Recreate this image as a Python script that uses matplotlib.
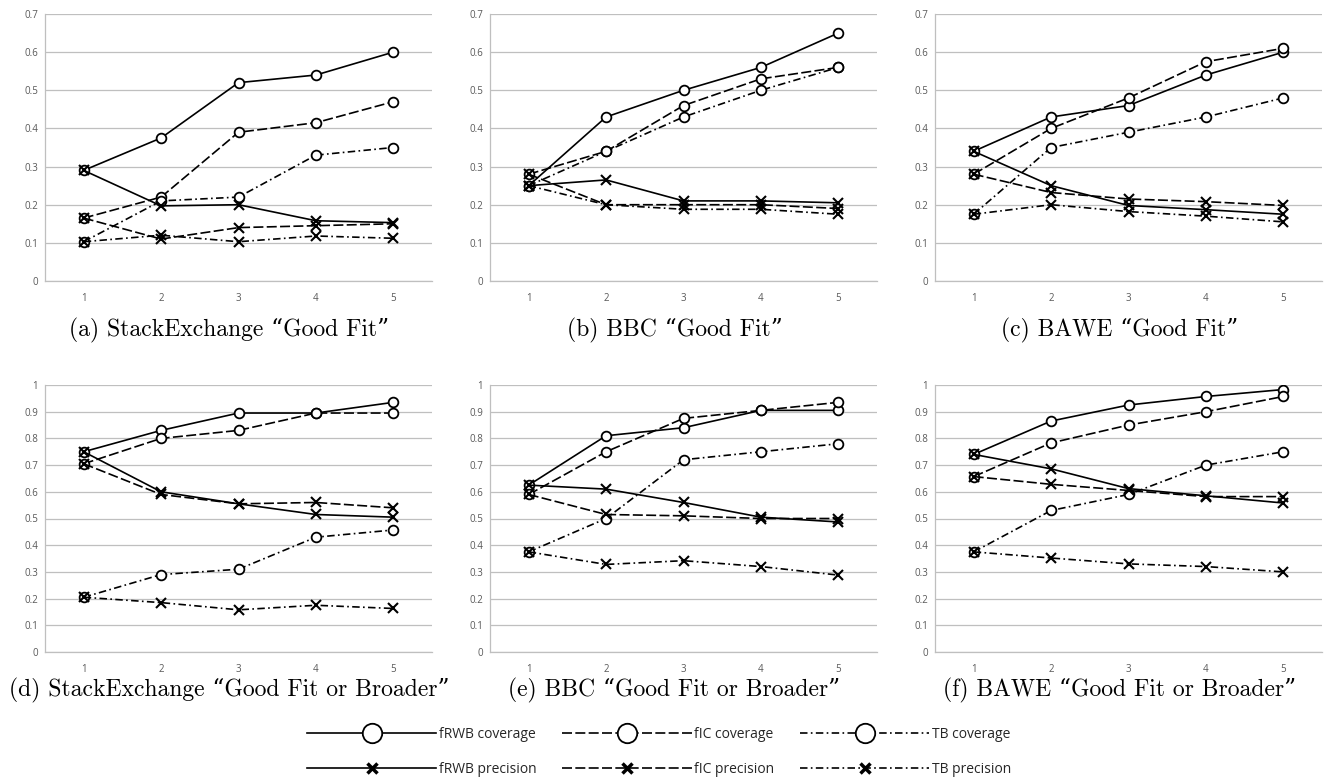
import matplotlib
matplotlib.use('Agg')
import matplotlib.pyplot as plt
from matplotlib.lines import Line2D
from matplotlib.ticker import FuncFormatter
import numpy as np

x = [1, 2, 3, 4, 5]

# (a) StackExchange "Good Fit"
a_frwb_cov = [0.29, 0.375, 0.52, 0.54, 0.60]
a_fic_cov = [0.165, 0.22, 0.39, 0.415, 0.47]
a_tb_cov = [0.103, 0.21, 0.22, 0.33, 0.35]
a_frwb_prec = [0.29, 0.197, 0.20, 0.158, 0.153]
a_fic_prec = [0.165, 0.11, 0.14, 0.145, 0.15]
a_tb_prec = [0.103, 0.12, 0.103, 0.118, 0.112]

# (b) BBC "Good Fit"
b_frwb_cov = [0.25, 0.43, 0.50, 0.56, 0.65]
b_fic_cov = [0.28, 0.34, 0.46, 0.53, 0.56]
b_tb_cov = [0.25, 0.34, 0.43, 0.50, 0.56]
b_frwb_prec = [0.25, 0.265, 0.21, 0.21, 0.205]
b_fic_prec = [0.28, 0.20, 0.20, 0.20, 0.19]
b_tb_prec = [0.25, 0.20, 0.188, 0.188, 0.175]

# (c) BAWE "Good Fit"
c_frwb_cov = [0.34, 0.43, 0.46, 0.54, 0.60]
c_fic_cov = [0.28, 0.40, 0.48, 0.575, 0.61]
c_tb_cov = [0.175, 0.35, 0.39, 0.43, 0.48]
c_frwb_prec = [0.34, 0.25, 0.198, 0.187, 0.175]
c_fic_prec = [0.28, 0.232, 0.215, 0.208, 0.198]
c_tb_prec = [0.175, 0.20, 0.182, 0.17, 0.155]

# (d) StackExchange "Good Fit or Broader"
d_frwb_cov = [0.75, 0.83, 0.895, 0.895, 0.935]
d_fic_cov = [0.705, 0.80, 0.83, 0.895, 0.895]
d_tb_cov = [0.205, 0.29, 0.31, 0.43, 0.457]
d_frwb_prec = [0.75, 0.60, 0.555, 0.515, 0.505]
d_fic_prec = [0.705, 0.59, 0.555, 0.56, 0.54]
d_tb_prec = [0.205, 0.185, 0.158, 0.175, 0.163]

# (e) BBC "Good Fit or Broader"
e_frwb_cov = [0.625, 0.81, 0.84, 0.905, 0.905]
e_fic_cov = [0.59, 0.75, 0.875, 0.905, 0.935]
e_tb_cov = [0.375, 0.50, 0.72, 0.75, 0.78]
e_frwb_prec = [0.625, 0.61, 0.56, 0.505, 0.487]
e_fic_prec = [0.59, 0.515, 0.51, 0.50, 0.50]
e_tb_prec = [0.375, 0.328, 0.342, 0.32, 0.288]

# (f) BAWE "Good Fit or Broader"
f_frwb_cov = [0.74, 0.865, 0.925, 0.957, 0.983]
f_fic_cov = [0.657, 0.783, 0.85, 0.90, 0.957]
f_tb_cov = [0.375, 0.53, 0.59, 0.70, 0.75]
f_frwb_prec = [0.74, 0.686, 0.612, 0.585, 0.558]
f_fic_prec = [0.657, 0.628, 0.605, 0.582, 0.582]
f_tb_prec = [0.375, 0.352, 0.33, 0.32, 0.30]

captions = ['(a) StackExchange \u201cGood Fit\u201d', '(b) BBC \u201cGood Fit\u201d',
            '(c) BAWE \u201cGood Fit\u201d',
            '(d) StackExchange \u201cGood Fit or Broader\u201d',
            '(e) BBC \u201cGood Fit or Broader\u201d',
            '(f) BAWE \u201cGood Fit or Broader\u201d']
labels = ['fRWB coverage', 'fIC coverage', 'TB coverage',
          'fRWB precision', 'fIC precision', 'TB precision']

panels = [
    [a_frwb_cov, a_fic_cov, a_tb_cov, a_frwb_prec, a_fic_prec, a_tb_prec],
    [b_frwb_cov, b_fic_cov, b_tb_cov, b_frwb_prec, b_fic_prec, b_tb_prec],
    [c_frwb_cov, c_fic_cov, c_tb_cov, c_frwb_prec, c_fic_prec, c_tb_prec],
    [d_frwb_cov, d_fic_cov, d_tb_cov, d_frwb_prec, d_fic_prec, d_tb_prec],
    [e_frwb_cov, e_fic_cov, e_tb_cov, e_frwb_prec, e_fic_prec, e_tb_prec],
    [f_frwb_cov, f_fic_cov, f_tb_cov, f_frwb_prec, f_fic_prec, f_tb_prec],
]

W, H = 1325, 778
lefts = [45, 490, 935]
tops = [14, 385]
aw, ah = 387, 267

dash_styles = ['-', (0, (6, 2)), (0, (4.5, 2, 1, 2))]
markers = ['o', 'o', 'o', 'x', 'x', 'x']
grid_c = '#bfbfbf'
tick_c = '#595959'

fig = plt.figure(figsize=(W / 100, H / 100), dpi=100)

for i, series in enumerate(panels):
    r, c = divmod(i, 3)
    ax = fig.add_axes([lefts[c] / W, 1 - (tops[r] + ah) / H, aw / W, ah / H])
    ymax = 0.7 if r == 0 else 1.0
    for j, vals in enumerate(series):
        ls = dash_styles[j % 3]
        if markers[j] == 'o':
            ax.plot(x, vals, linestyle=ls, color='black', lw=1.2, marker='o',
                    ms=7, mfc='white', mec='black', mew=1.3, zorder=3)
        else:
            ax.plot(x, vals, linestyle=ls, color='black', lw=1.2, marker='x',
                    ms=7, mec='black', mew=1.5, zorder=3)
    ax.set_xlim(0.5, 5.5)
    ax.set_ylim(0, ymax)
    ax.set_xticks(x)
    ax.set_yticks(np.arange(0, ymax + 0.01, 0.1))
    ax.yaxis.set_major_formatter(FuncFormatter(lambda v, p: f'{v:g}'))
    ax.grid(axis='y', color=grid_c, lw=0.9)
    ax.set_axisbelow(True)
    for s in ['top', 'right']:
        ax.spines[s].set_visible(False)
    for s in ['left', 'bottom']:
        ax.spines[s].set_color(grid_c)
        ax.spines[s].set_linewidth(0.9)
    ax.tick_params(length=0, labelsize=7, labelcolor=tick_c)
    ax.tick_params(axis='x', pad=9)
    ax.tick_params(axis='y', pad=5)
    for t in ax.get_xticklabels() + ax.get_yticklabels():
        t.set_family(['Open Sans', 'DejaVu Sans'])
    cy = 330 if r == 0 else 690
    fig.text((lefts[c] + aw / 2 - 9) / W, 1 - cy / H, captions[i],
             ha='center', va='center', fontsize=17,
             family=['cmr10', 'DejaVu Serif'])

handles = []
order = [0, 3, 1, 4, 2, 5]
for j in order:
    ls = dash_styles[j % 3]
    if markers[j] == 'o':
        h = Line2D([], [], linestyle=ls, color='black', lw=1.2, marker='o',
                   ms=14, mfc='white', mec='black', mew=1.3)
    else:
        h = Line2D([], [], linestyle=ls, color='black', lw=1.2, marker='x',
                   ms=7, mec='black', mew=2.5)
    handles.append(h)
leg = fig.legend(handles, [labels[j] for j in order], ncol=3, loc='center',
                 bbox_to_anchor=(0.4975, 1 - 752 / H), frameon=False,
                 handlelength=9.3, handletextpad=0.2, columnspacing=1.85,
                 labelspacing=1.4, prop={'family': 'Open Sans', 'size': 10})
for t in leg.get_texts():
    t.set_color('#262626')

fig.savefig('out.png', dpi=100)
